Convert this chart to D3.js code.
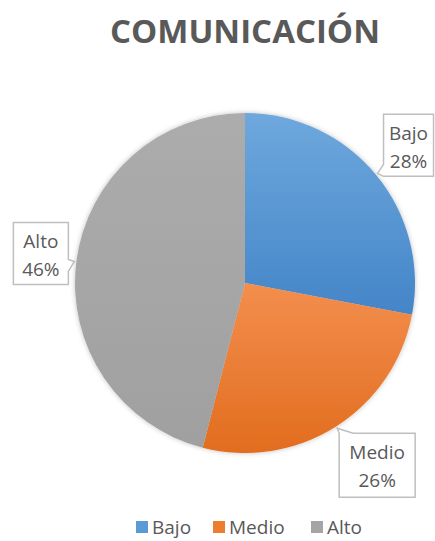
<!DOCTYPE html>
<html>
<head>
<meta charset="utf-8">
<script src="https://cdn.jsdelivr.net/npm/d3@7"></script>
<style>
  body { margin: 0; background: #fff; }
  text { font-family: "Open Sans", sans-serif; fill: #595959; }
</style>
</head>
<body>
<div id="chart"></div>
<script>
// data
let categories = ["Bajo", "Medio", "Alto"];
let values = [28, 26, 46];
let colors = ["#5b9bd5", "#ed7d31", "#a5a5a5"];
let darker = ["#4485c8", "#e26d1f", "#a0a0a0"];
let lighter = ["#6ea8dd", "#f38e4e", "#acacac"];

let width = 435, height = 541;
let cx = 245, cy = 283, radius = 170;

let svg = d3.select("#chart").append("svg")
    .attr("width", width)
    .attr("height", height);

let defs = svg.append("defs");
categories.forEach((c, i) => {
    let g = defs.append("linearGradient")
        .attr("id", "grad" + i)
        .attr("x1", 0).attr("y1", 0).attr("x2", 0).attr("y2", 1);
    g.append("stop").attr("offset", "0%").attr("stop-color", lighter[i]);
    g.append("stop").attr("offset", "100%").attr("stop-color", darker[i]);
});
let shadow = defs.append("filter").attr("id", "shadow")
    .attr("x", "-20%").attr("y", "-20%").attr("width", "140%").attr("height", "140%");
shadow.append("feDropShadow")
    .attr("dx", 0).attr("dy", 0).attr("stdDeviation", 2.5)
    .attr("flood-color", "#000").attr("flood-opacity", 0.25);

// title
svg.append("text")
    .attr("x", 245)
    .attr("y", 43)
    .attr("text-anchor", "middle")
    .style("font-size", "33px")
    .style("font-weight", "bold")
    .text("COMUNICACIÓN");

let pie = d3.pie().sort(null).value(d => d);
let arcs = pie(values);
let arc = d3.arc().innerRadius(0).outerRadius(radius);

let g = svg.append("g").attr("transform", `translate(${cx},${cy})`);

g.append("g").attr("filter", "url(#shadow)")
  .selectAll("path")
  .data(arcs)
  .join("path")
    .attr("d", arc)
    .attr("fill", (d, i) => `url(#grad${i})`);

// callout label boxes: offset of box from tip, size, and tab side
let boxes = [
    { dx: 6, dy: -59, w: 50, h: 62, tab: "left" },
    { dx: 2, dy: 5, w: 76, h: 64, tab: "top" },
    { dx: -61, dy: -39, w: 55, h: 62, tab: "right" }
];

arcs.forEach((a, i) => {
    let mid = (a.startAngle + a.endAngle) / 2;
    let r = radius + 2;
    let tx = cx + Math.sin(mid) * r;
    let ty = cy - Math.cos(mid) * r;
    let b = boxes[i];
    let x0 = tx + b.dx, y0 = ty + b.dy, x1 = x0 + b.w, y1 = y0 + b.h;
    let p;
    if (b.tab === "left") {
        p = `M${x0},${y0} H${x1} V${y1} H${x0} L${tx},${ty} L${x0},${y1 - 12} Z`;
    } else if (b.tab === "top") {
        p = `M${x0},${y0} L${tx},${ty} L${x0 + 14},${y0} H${x1} V${y1} H${x0} Z`;
    } else {
        p = `M${x0},${y0} H${x1} V${ty - 2} L${tx},${ty} L${x1},${ty + 10} V${y1} H${x0} Z`;
    }
    svg.append("path")
        .attr("d", p)
        .attr("fill", "#fff")
        .attr("stroke", "#bfbfbf")
        .attr("stroke-width", 1.5);
    let t = svg.append("text")
        .attr("x", (x0 + x1) / 2)
        .attr("text-anchor", "middle")
        .style("font-size", "19px");
    t.append("tspan").attr("x", (x0 + x1) / 2).attr("y", y0 + 26).text(categories[i]);
    t.append("tspan").attr("x", (x0 + x1) / 2).attr("y", y0 + 54).text(values[i] + "%");
});

// legend
let legendX = [136, 213, 311];
let legend = svg.append("g");
categories.forEach((c, i) => {
    legend.append("rect")
        .attr("x", legendX[i]).attr("y", 521)
        .attr("width", 12).attr("height", 12)
        .attr("fill", colors[i]);
    legend.append("text")
        .attr("x", legendX[i] + 16).attr("y", 534)
        .style("font-size", "19px")
        .text(c);
});
</script>
</body>
</html>
